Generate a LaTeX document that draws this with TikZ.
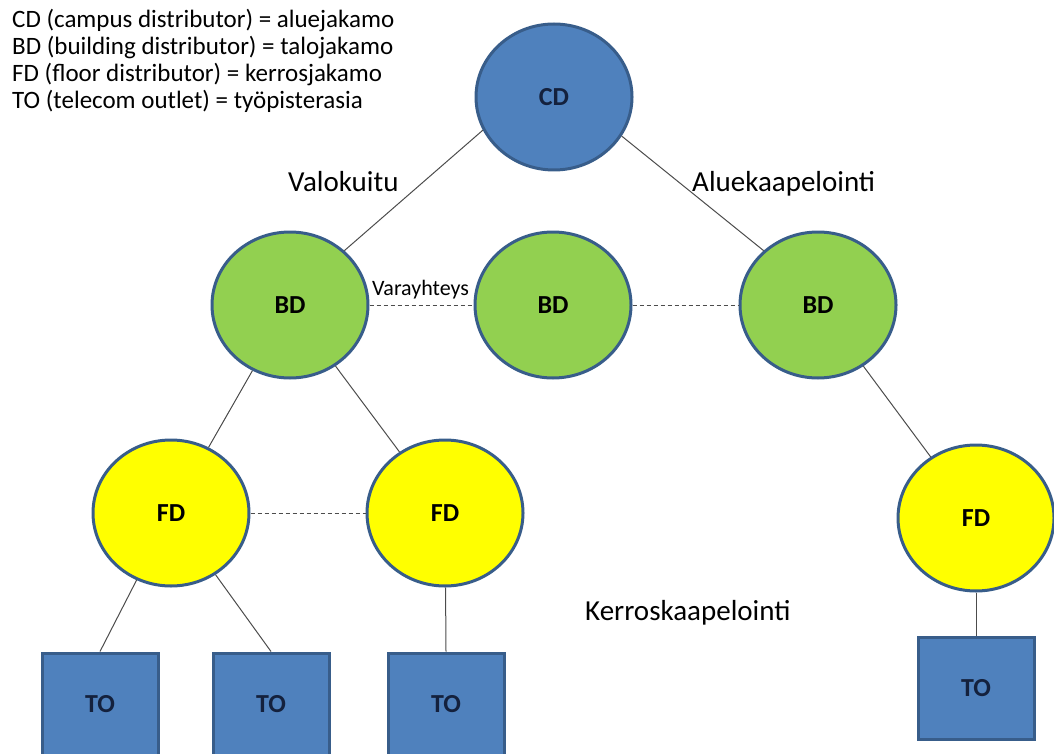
\documentclass[tikz,border=0pt]{standalone}
\usepackage{fontspec}
\setmainfont{Carlito}
\usetikzlibrary{shapes.geometric,positioning}
\definecolor{boxblue}{HTML}{4F81BD}
\definecolor{rimblue}{HTML}{385D8A}
\definecolor{bdgreen}{HTML}{92D050}
\definecolor{fdyellow}{HTML}{FFFF00}
\definecolor{navytext}{HTML}{14213D}
\tikzstyle{distnode} = [ellipse,draw=rimblue,line width=3pt,minimum width=156pt,minimum height=146pt,inner sep=0pt,font=\fontsize{26}{30}\selectfont\bfseries]
\tikzstyle{outlet} = [rectangle,draw=rimblue,line width=3pt,fill=boxblue,minimum width=116pt,minimum height=102pt,inner sep=0pt,text=navytext,font=\fontsize{26}{30}\selectfont\bfseries]
\tikzstyle{conn} = [line width=1pt,color=black!70]
\tikzstyle{spare} = [line width=1pt,color=black!70,dash pattern=on 4pt off 3pt]
\tikzstyle{cablelabel} = [anchor=base west,inner sep=0pt,font=\fontsize{29}{34}\selectfont]
\tikzstyle{legend} = [anchor=base west,inner sep=0pt,font=\fontsize{25}{28}\selectfont]

\begin{document}
\begin{tikzpicture}[x=1pt,y=-1pt]
\useasboundingbox (0,0) rectangle (1054,754);

% legend
\node[legend] (leg1) at (12,28) {CD (campus distributor) = aluejakamo};
\node[legend] (leg2) at (12,55) {BD (building distributor) = talojakamo};
\node[legend] (leg3) at (12,82) {FD (floor distributor) = kerrosjakamo};
\node[legend] (leg4) at (12,109) {TO (telecom outlet) = työpisterasia};

% distributors
\node[distnode,fill=boxblue,text=navytext] (cd) at (554,97) {CD};
\node[distnode,fill=bdgreen] (bd1) at (290,305) {BD};
\node[distnode,fill=bdgreen] (bd2) at (553,305) {BD};
\node[distnode,fill=bdgreen] (bd3) at (818,305) {BD};
\node[distnode,fill=fdyellow] (fd1) at (171,513) {FD};
\node[distnode,fill=fdyellow] (fd2) at (445,513) {FD};
\node[distnode,fill=fdyellow] (fd3) at (976,518) {FD};

% outlets
\node[outlet] (to1) at (100,704) {TO};
\node[outlet] (to2) at (271,704) {TO};
\node[outlet] (to3) at (446,704) {TO};
\node[outlet] (to4) at (976,688) {TO};

\draw[conn] (cd.205) -- (bd1.45);
\draw[conn] (cd.330) -- (bd3.135);
\draw[conn] (bd1) -- (fd1);
\draw[conn] (bd1) -- (fd2);
\draw[conn] (bd3) -- (fd3);
\draw[conn] (fd1) -- (to1.north);
\draw[conn] (fd1) -- (to2.north);
\draw[conn] (fd2) -- (to3.north);
\draw[conn] (fd3) -- (to4.north);

\draw[spare] (bd1.east) -- (bd2.west);
\draw[spare] (bd2.east) -- (bd3.west);
\draw[spare] (fd1.east) -- (fd2.west);

\node[anchor=base west,inner sep=0pt,font=\fontsize{22}{26}\selectfont] (spare) at (372,295) {Varayhteys};
\node[cablelabel] (fibre) at (288,192) {Valokuitu};
\node[cablelabel] (campus) at (692,192) {Aluekaapelointi};
\node[cablelabel] (floor) at (585,620) {Kerroskaapelointi};
\end{tikzpicture}
\end{document}
